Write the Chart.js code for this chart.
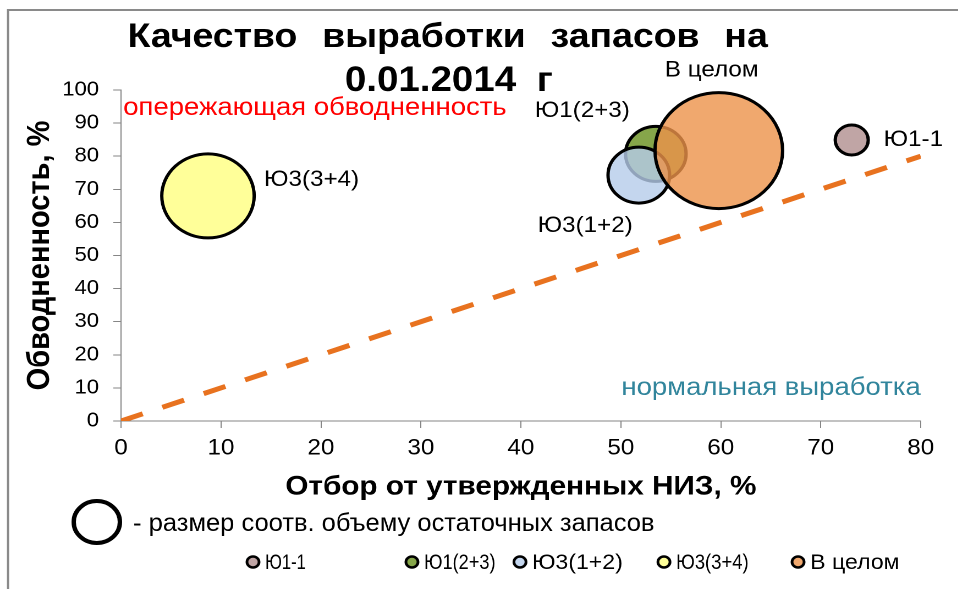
<!DOCTYPE html>
<html>
<head>
<meta charset="utf-8">
<script src="https://cdn.jsdelivr.net/npm/chart.js@4.4.1/dist/chart.umd.min.js"></script>
<style>
  html, body { margin: 0; padding: 0; background: #fff; overflow: hidden; }
  #wrap { width: 871px; height: 589px; transform: scaleX(1.1); transform-origin: 0 0; }
  canvas { display: block; }
</style>
</head>
<body>
<div id="wrap"><canvas id="chart" width="871" height="589"></canvas></div>
<script>
// Объекты разработки
const fields = ['Ю1-1', 'Ю1(2+3)', 'Ю3(1+2)', 'Ю3(3+4)', 'В целом'];
// Отбор от утвержденных НИЗ, %
const recovery = [73.1, 53.5, 51.8, 8.7, 59.8];
// Обводненность, %
const waterCut = [84.9, 80.7, 74.3, 68.0, 81.7];
// Радиус пузырька ~ объем остаточных запасов
const bubbleRadius = [15, 27.5, 28, 42, 58];
// Линия равенства обводненности и отбора
const parityX = [0, 80];
const parityY = [0, 80];
// Деления осей
const xTicks = [0, 10, 20, 30, 40, 50, 60, 70, 80];
const yTicks = [0, 10, 20, 30, 40, 50, 60, 70, 80, 90, 100];

const titleLines = [['Качество', 'выработки', 'запасов', 'на'], ['0.01.2014', 'г']];
const xTitle = 'Отбор от утвержденных НИЗ, %';
const yTitle = 'Обводненность, %';
const zoneAbove = 'опережающая обводненность';
const zoneBelow = 'нормальная выработка';
const sizeNote = '- размер соотв. объему остаточных запасов';

// Оформление
const FONT = "'Liberation Sans', Arial, sans-serif";
const NARROW = "'Liberation Sans Narrow', 'Arial Narrow', 'Liberation Sans', Arial, sans-serif";
const fillColors = ['rgba(176,143,143,0.8)', 'rgba(104,144,29,0.8)', 'rgba(181,204,234,0.8)', 'rgba(255,255,128,0.8)', 'rgba(236,146,74,0.8)'];
const legendColors = ['#c0a5a5', '#86a64a', '#c4d6ee', '#ffff99', '#f0a86e'];
const drawOrder = [5, 4, 3, 2, 1];                 // меньшее значение рисуется поверх
const labelOffset = [[29, 0], [-110, -43], [-92, 51], [51, -16], [-49, -80]];
const legendX = [230, 374.5, 472.7, 603.6, 725.5];
const legendTextWidth = [37, 65, 87, 66, 89];
const AXIS = '#868686';

const datasets = fields.map((name, i) => ({
  type: 'bubble',
  label: name,
  data: [{ x: recovery[i], y: waterCut[i], r: bubbleRadius[i] }],
  backgroundColor: fillColors[i],
  borderColor: '#000',
  borderWidth: 3,
  hoverBorderWidth: 3,
  order: drawOrder[i],
  clip: false
}));
datasets.push({
  type: 'line',
  label: 'parity',
  data: parityX.map((x, i) => ({ x, y: parityY[i] })),
  borderColor: '#e8721f',
  borderWidth: 5,
  borderDash: [21, 19],
  pointRadius: 0,
  fill: false,
  order: 6
});

function drawWords(ctx, words, cx, y, width) {
  const widths = words.map(w => ctx.measureText(w).width);
  const sum = widths.reduce((a, b) => a + b, 0);
  const gap = Math.max(8, (width - sum) / (words.length - 1));
  let x = cx - (sum + gap * (words.length - 1)) / 2;
  ctx.textAlign = 'left';
  words.forEach((w, i) => { ctx.fillText(w, x, y); x += widths[i] + gap; });
}

const decorations = {
  id: 'decorations',
  beforeDraw(chart) {
    const ctx = chart.ctx;
    ctx.save();
    ctx.fillStyle = '#fff';
    ctx.fillRect(0, 0, chart.width, chart.height);
    ctx.strokeStyle = '#8a8a8a';
    ctx.lineWidth = 2;
    ctx.beginPath();
    ctx.moveTo(7.3, chart.height);
    ctx.lineTo(7.3, 10);
    ctx.lineTo(chart.width, 10);
    ctx.stroke();
    ctx.restore();
  },
  afterDraw(chart) {
    const ctx = chart.ctx;
    const xs = chart.scales.x, ys = chart.scales.y;
    ctx.save();
    ctx.fillStyle = '#000';
    ctx.textBaseline = 'alphabetic';
    // заголовок
    ctx.font = 'bold 34px ' + FONT;
    drawWords(ctx, titleLines[0], 407, 47, 582);
    ctx.font = 'bold 35px ' + FONT;
    drawWords(ctx, titleLines[1], 408, 91, 189);

    // зоны
    ctx.textBaseline = 'middle';
    ctx.font = '25px ' + FONT;
    ctx.fillStyle = '#ff0000';
    ctx.textAlign = 'left';
    ctx.fillText(zoneAbove, 112, 108);
    ctx.fillStyle = '#31859c';
    ctx.textAlign = 'right';
    ctx.fillText(zoneBelow, 837, 388);

    // подписи пузырьков
    ctx.fillStyle = '#000';
    ctx.textAlign = 'left';
    ctx.font = '22px ' + FONT;
    fields.forEach((name, i) => {
      const px = xs.getPixelForValue(recovery[i]);
      const py = ys.getPixelForValue(waterCut[i]);
      ctx.fillText(name, px + labelOffset[i][0], py + labelOffset[i][1]);
    });

    // пояснение к размеру
    ctx.lineWidth = 4;
    ctx.strokeStyle = '#000';
    ctx.beginPath();
    ctx.arc(88, 522, 21, 0, Math.PI * 2);
    ctx.stroke();
    ctx.font = '25px ' + NARROW;
    ctx.fillText(sizeNote, 121, 524, 474);

    // легенда
    ctx.font = '21px ' + NARROW;
    fields.forEach((name, i) => {
      ctx.beginPath();
      ctx.arc(legendX[i], 562, 5.5, 0, Math.PI * 2);
      ctx.fillStyle = legendColors[i];
      ctx.fill();
      ctx.lineWidth = 2.5;
      ctx.strokeStyle = '#000';
      ctx.stroke();
      ctx.fillStyle = '#000';
      ctx.fillText(name, legendX[i] + 11, 563, legendTextWidth[i]);
    });
    ctx.restore();
  }
};

Chart.defaults.font.family = FONT;
Chart.defaults.color = '#000';

new Chart(document.getElementById('chart'), {
  data: { datasets },
  options: {
    responsive: false,
    animation: false,
    devicePixelRatio: 2,
    layout: { autoPadding: false, padding: { left: 0, top: 90, right: 34, bottom: 86 } },
    plugins: { legend: { display: false }, tooltip: { enabled: false }, title: { display: false } },
    events: [],
    scales: {
      x: {
        type: 'linear',
        min: xTicks[0],
        max: xTicks[xTicks.length - 1],
        afterBuildTicks: s => { s.ticks = xTicks.map(v => ({ value: v })); },
        afterFit: s => { s.height = 82; },
        grid: { drawOnChartArea: false, drawTicks: true, tickLength: 7, color: AXIS },
        border: { color: AXIS, width: 1 },
        ticks: { font: { size: 22 }, padding: 7, color: '#000', maxRotation: 0 },
        title: { display: true, text: xTitle, font: { size: 27, weight: 'bold' }, padding: { top: 0, bottom: 0 }, color: '#000' }
      },
      y: {
        type: 'linear',
        min: yTicks[0],
        max: yTicks[yTicks.length - 1],
        afterBuildTicks: s => { s.ticks = yTicks.map(v => ({ value: v })); },
        afterFit: s => { s.width = 110; },
        grid: { drawOnChartArea: false, drawTicks: true, tickLength: 7, color: AXIS },
        border: { color: AXIS, width: 1 },
        ticks: { font: { size: 20 }, padding: 13, color: '#000' },
        title: { display: true, text: yTitle, font: { size: 29, weight: 'bold' }, padding: { top: 19, bottom: 0 }, color: '#000' }
      }
    }
  },
  plugins: [decorations]
});
</script>
</body>
</html>
